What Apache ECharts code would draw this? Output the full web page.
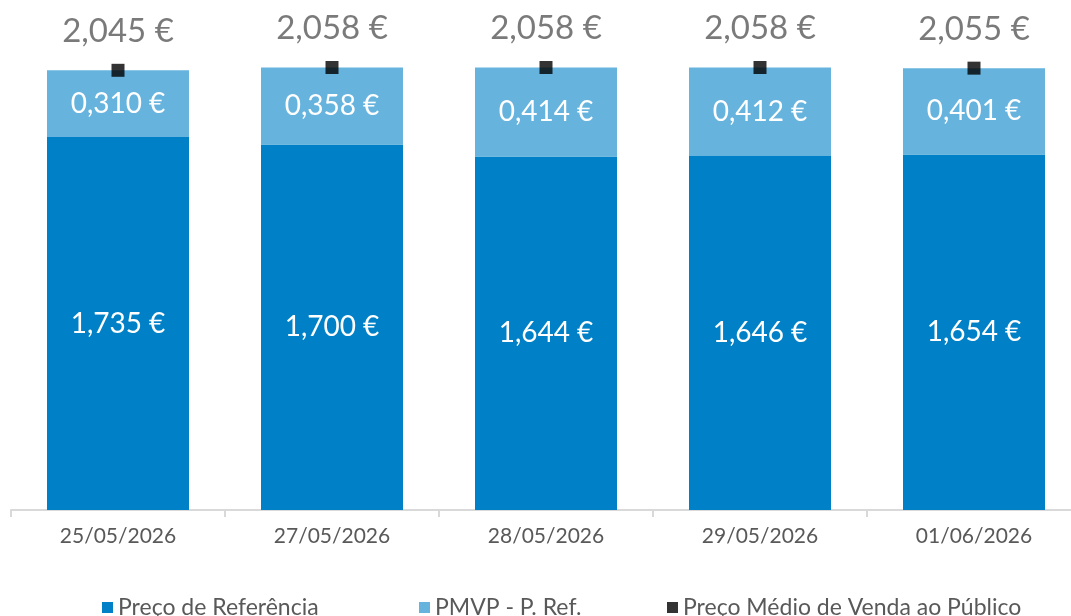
<!DOCTYPE html>
<html>
<head>
<meta charset="utf-8">
<title>Preço de Referência</title>
<script src="https://cdn.jsdelivr.net/npm/echarts@6/dist/echarts.min.js"></script>
<style>
  html, body { margin: 0; padding: 0; background: #fff; }
  #chart { width: 1071px; height: 616px; }
</style>
</head>
<body>
<div id="chart"></div>
<script>
// dados
const datas = ['25/05/2026', '27/05/2026', '28/05/2026', '29/05/2026', '01/06/2026']
const precoReferencia = [1.735, 1.700, 1.644, 1.646, 1.654]
const pmvpMenosRef = [0.310, 0.358, 0.414, 0.412, 0.401]
const precoMedio = [2.045, 2.058, 2.058, 2.058, 2.055]

const fmt = v => v.toFixed(3).replace('.', ',') + ' €'
const fontFamily = 'Lato, "Noto Sans", sans-serif'

const chart = echarts.init(document.getElementById('chart'))

const legendText = { color: '#595959', fontSize: 23, fontFamily }

chart.setOption({
  animation: false,
  textStyle: { fontFamily },
  grid: {
    left: 11,
    width: 1070,
    top: 0,
    bottom: 106,
    outerBoundsMode: 'none'
  },
  legend: [
    {
      data: ['Preço de Referência'],
      left: 97, top: 591,
      itemWidth: 11, itemHeight: 11, itemGap: 4,
      icon: 'rect',
      textStyle: legendText
    },
    {
      data: ['PMVP - P. Ref.'],
      left: 414, top: 591,
      itemWidth: 11, itemHeight: 11,
      icon: 'rect',
      textStyle: legendText
    },
    {
      data: ['Preço Médio de Venda ao Público'],
      left: 662, top: 591,
      itemWidth: 11, itemHeight: 11,
      icon: 'rect',
      textStyle: legendText
    }
  ],
  xAxis: {
    type: 'category',
    data: datas,
    axisLine: { lineStyle: { color: '#d9d9d9', width: 2 } },
    axisTick: { show: true, length: 7, lineStyle: { color: '#d9d9d9', width: 2 } },
    axisLabel: { color: '#595959', fontSize: 21, margin: 16 }
  },
  yAxis: {
    type: 'value',
    min: 0,
    max: 2.372,
    show: false,
    splitLine: { show: false }
  },
  series: [
    {
      name: 'Preço de Referência',
      type: 'bar',
      stack: 'preco',
      barWidth: 142,
      data: precoReferencia,
      itemStyle: { color: '#0080C6' },
      label: {
        show: true,
        position: 'inside',
        color: '#fff',
        fontSize: 28,
        formatter: p => fmt(p.value)
      }
    },
    {
      name: 'PMVP - P. Ref.',
      type: 'bar',
      stack: 'preco',
      barWidth: 142,
      data: pmvpMenosRef,
      itemStyle: { color: '#66B3DE' },
      label: {
        show: true,
        position: 'inside',
        color: '#fff',
        fontSize: 28,
        formatter: p => fmt(p.value)
      }
    },
    {
      name: 'Preço Médio de Venda ao Público',
      type: 'scatter',
      data: precoMedio,
      symbol: 'rect',
      symbolSize: 13,
      itemStyle: { color: '#000' },
      z: 5,
      label: {
        show: true,
        position: 'top',
        distance: 16,
        color: '#595959',
        fontSize: 33,
        formatter: p => fmt(p.value)
      }
    }
  ]
})
</script>
</body>
</html>
